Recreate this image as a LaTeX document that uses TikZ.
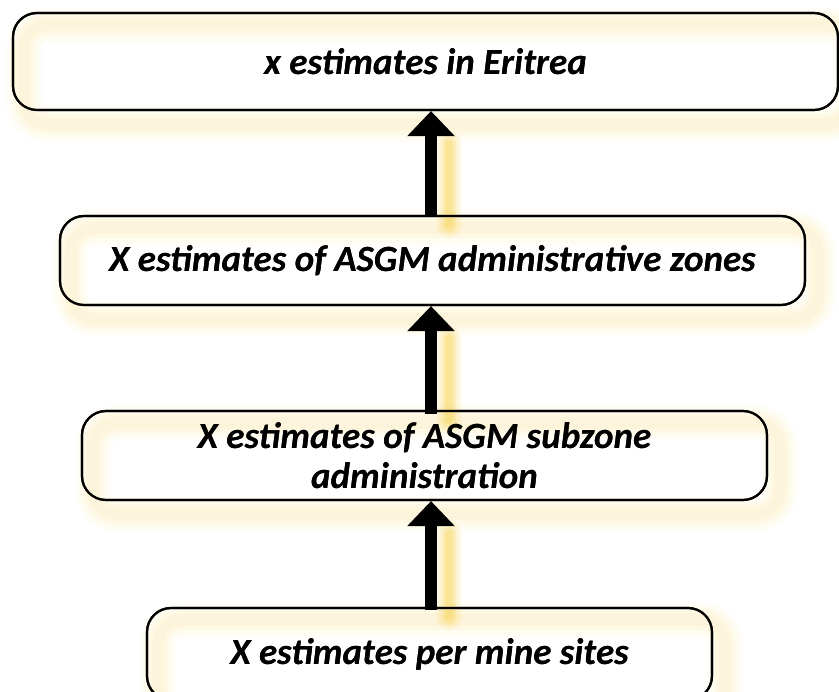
\documentclass[tikz,border=0pt]{standalone}
\usepackage{fontspec}
\setmainfont{Carlito}
\usetikzlibrary{arrows.meta}

\definecolor{glowcol}{RGB}{250,226,150}
\definecolor{arrowglow}{RGB}{246,208,70}

\tikzset{
  levelbox/.style={draw=black, line width=2.2pt, rounded corners=24pt,
    inner sep=0pt, align=center,
    font=\fontsize{37}{40}\selectfont\bfseries\itshape},
  uparrow/.style={line width=12pt,
    -{Triangle[width=46pt,length=25pt]}, black},
}

% soft offset halo behind a box
\newcommand{\boxglow}[1]{%
  \foreach \w/\o in {36/0.07, 28/0.09, 20/0.11, 12/0.13} {
    \draw[glowcol, line width=\w pt, opacity=\o, rounded corners=24pt]
      ([shift={(12pt,-13pt)}]#1.north west) rectangle ([shift={(12pt,-13pt)}]#1.south east);
  }%
}
% soft offset streak behind an arrow
\newcommand{\arrowglow}[2]{%
  \foreach \w/\o in {26/0.10, 20/0.14, 14/0.20, 8/0.30} {
    \draw[arrowglow, line width=\w pt, opacity=\o, line cap=round]
      ([shift={(18pt,-33pt)}]#1) -- ([shift={(18pt,-10pt)}]#2);
  }%
}

\begin{document}
\begin{tikzpicture}[x=1pt, y=-1pt]
  \useasboundingbox (0,0) rectangle (839,692);
  \clip (0,0) rectangle (839,692);

  % the four levels, top to bottom
  \node[levelbox, minimum width=825pt, minimum height=97pt] (eritrea) at (425.5,61.5)
    {x estimates in Eritrea};
  \node[levelbox, minimum width=745pt, minimum height=89pt] (zones) at (432.5,260.5)
    {X estimates of ASGM administrative zones};
  \node[levelbox, minimum width=685pt, minimum height=89pt] (subzone) at (424.5,455.5)
    {X estimates of ASGM subzone\\administration};
  \node[levelbox, minimum width=565pt, minimum height=92pt] (sites) at (429.5,654)
    {X estimates per mine sites};

  % common axis of the arrows
  \coordinate (axis) at (431,0);

  % halos
  \begin{scope}
    \boxglow{eritrea}
    \boxglow{zones}
    \boxglow{subzone}
    \boxglow{sites}
    \arrowglow{eritrea.south -| axis}{zones.north -| axis}
    \arrowglow{zones.south -| axis}{subzone.north -| axis}
    \arrowglow{subzone.south -| axis}{sites.north -| axis}
  \end{scope}

  % redraw outlines and text above the halos
  \node[levelbox, minimum width=825pt, minimum height=97pt] at (eritrea)
    {x estimates in Eritrea};
  \node[levelbox, minimum width=745pt, minimum height=89pt] at (zones)
    {X estimates of ASGM administrative zones};
  \node[levelbox, minimum width=685pt, minimum height=89pt] at (subzone)
    {X estimates of ASGM subzone\\administration};
  \node[levelbox, minimum width=565pt, minimum height=92pt] at (sites)
    {X estimates per mine sites};

  % arrows
  \draw[uparrow] ([yshift=-1pt]zones.north -| axis) -- (eritrea.south -| axis);
  \draw[uparrow] ([yshift=-4pt]subzone.north -| axis) -- (zones.south -| axis);
  \draw[uparrow] ([yshift=-3pt]sites.north -| axis) -- (subzone.south -| axis);
\end{tikzpicture}
\end{document}
